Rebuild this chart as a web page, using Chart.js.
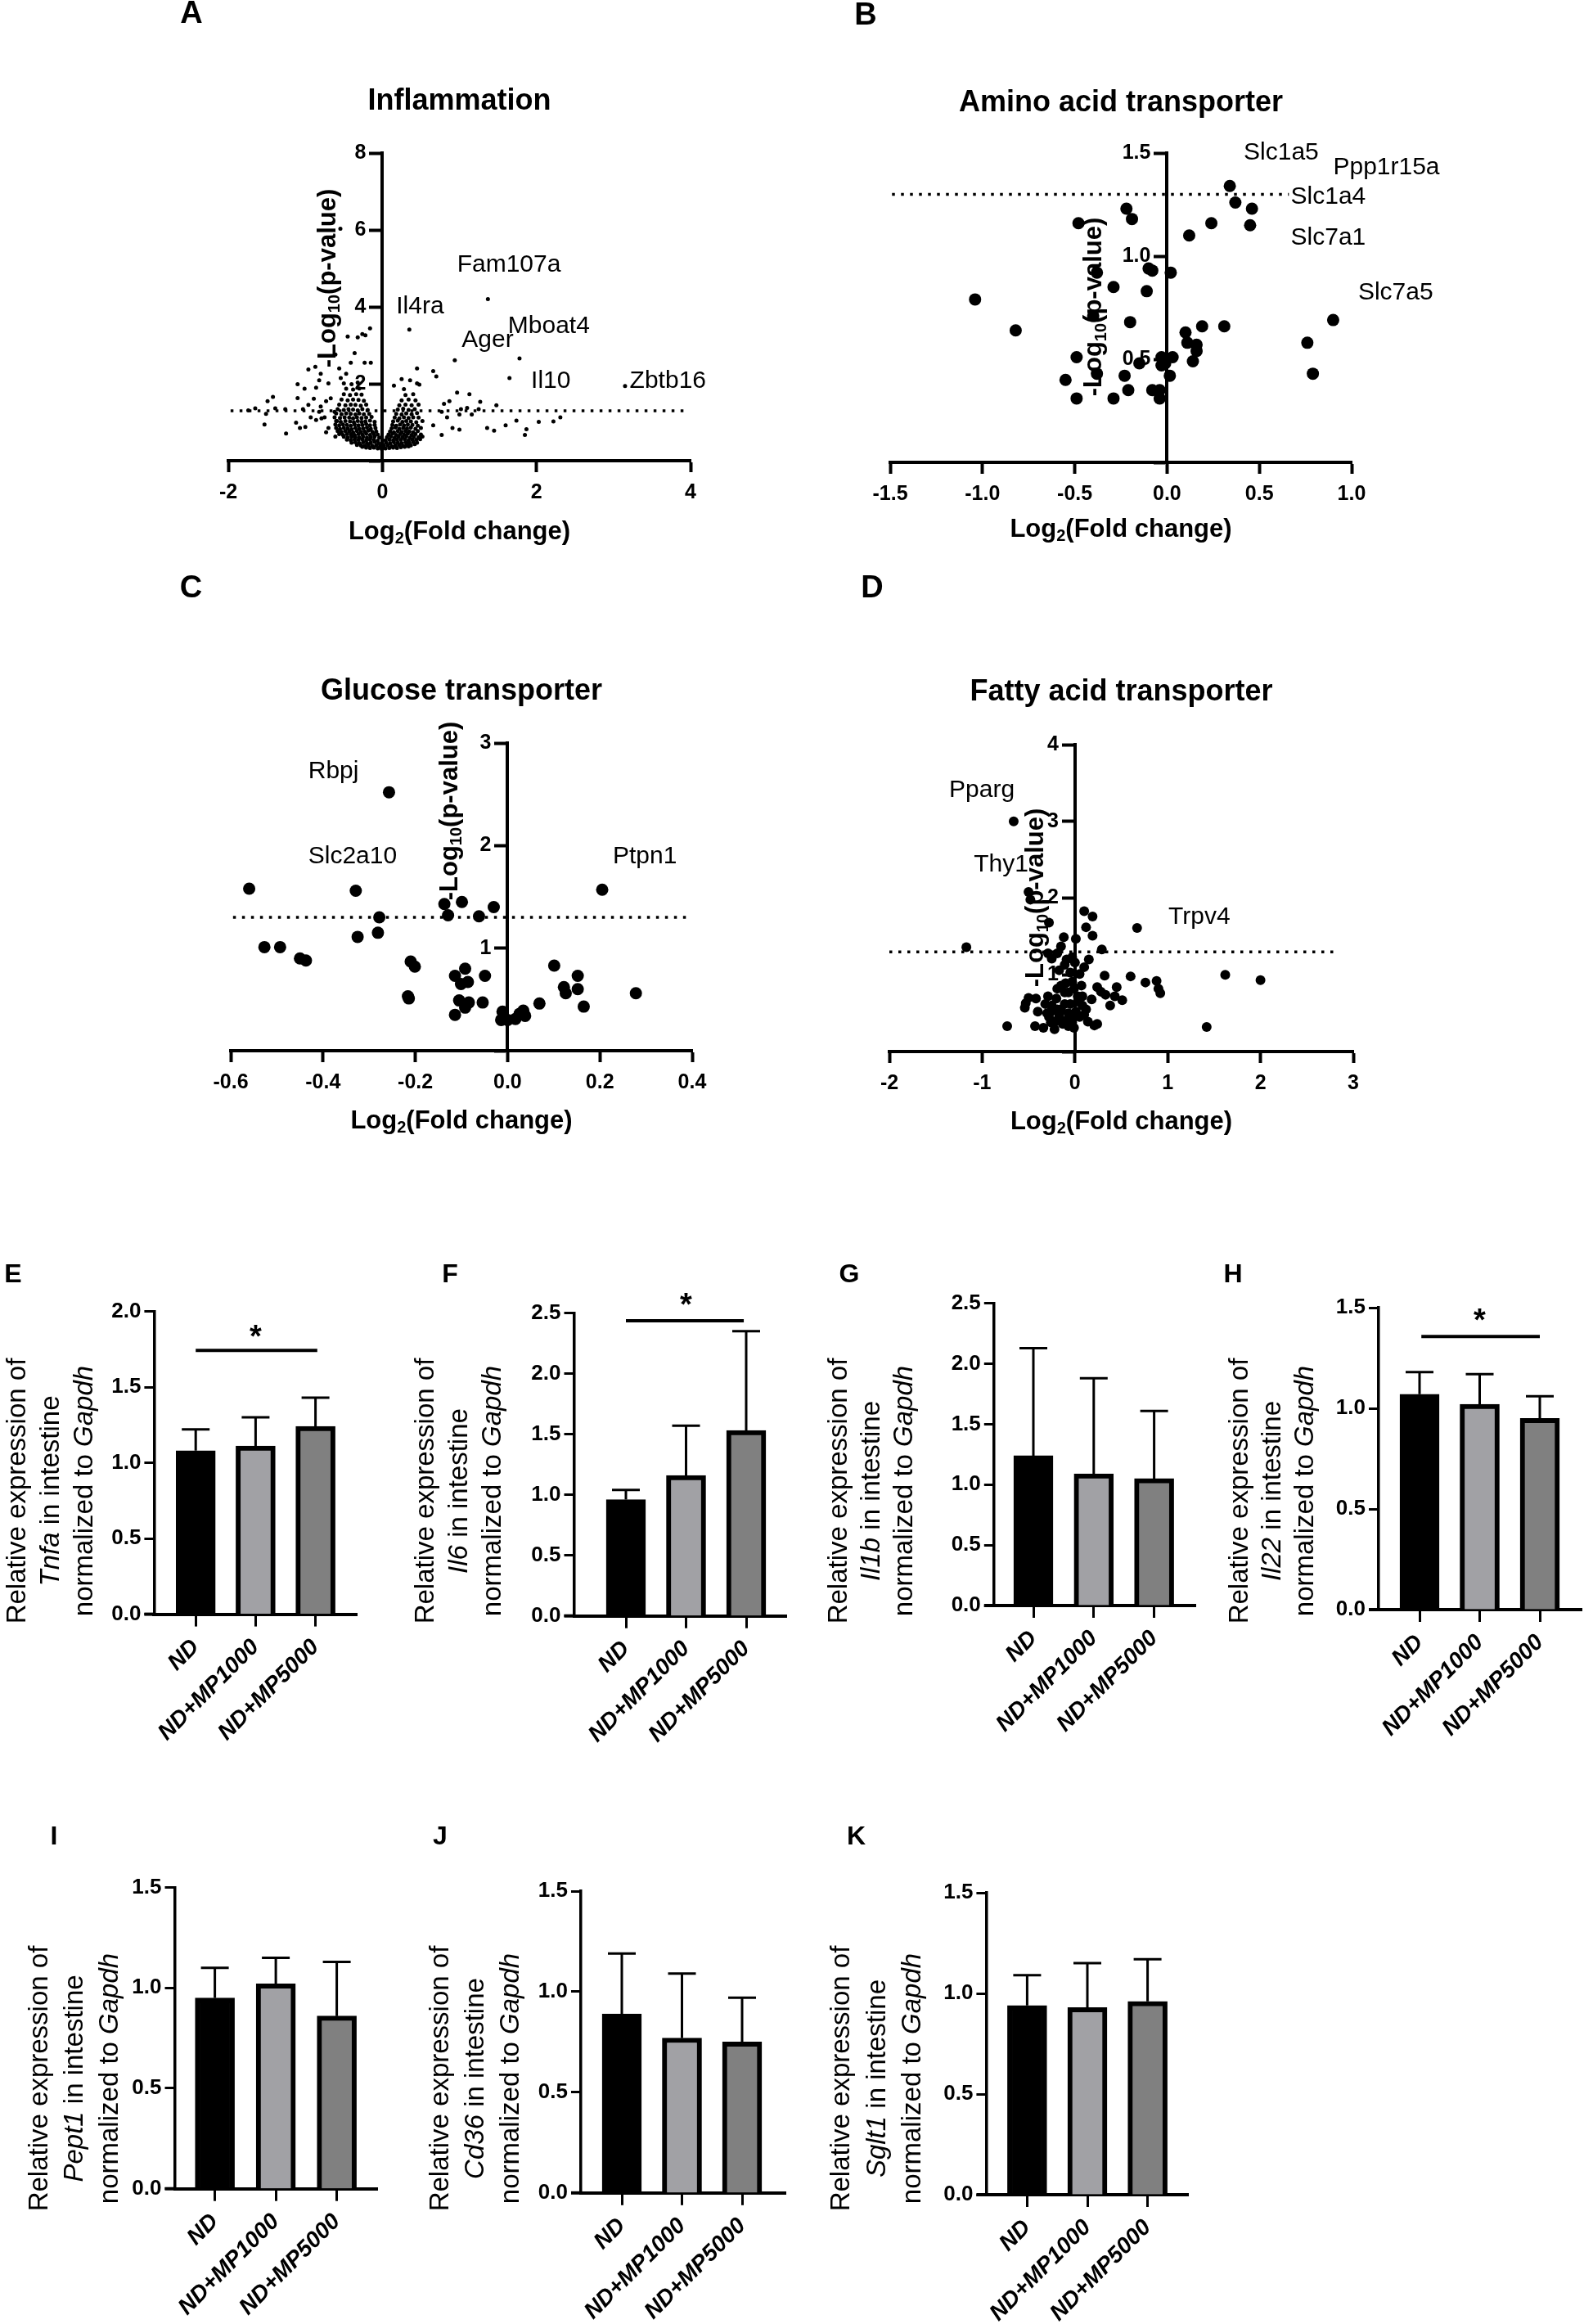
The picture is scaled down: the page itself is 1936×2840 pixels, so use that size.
<!DOCTYPE html>
<html>
<head>
<meta charset="utf-8">
<script src="https://cdn.jsdelivr.net/npm/chart.js@4.4.0/dist/chart.umd.min.js"></script>
<style>
  html, body { margin: 0; padding: 0; background: #fff; }
  #page { position: relative; width: 1936px; height: 2840px; background: #fff; overflow: hidden; }
  #page canvas { position: absolute; }
</style>
</head>
<body>
<div id="page"></div>
<script>
const FAM = '"Liberation Sans", Arial, Helvetica, sans-serif';

// ---------- volcano data: [log2(fold change), -log10(p)] ----------
const inflammationPts = [
  // labelled / isolated genes
  [-0.545,6.03],[1.37,4.2],[0.35,3.41],[0.94,2.61],[1.78,2.66],[1.65,2.15],[3.15,1.94],
  // sparse, upper left
  [-0.16,3.44],[-0.22,3.26],[-0.26,3.29],[-0.32,3.21],[-0.45,3.23],[-0.61,2.76],[-0.36,2.8],[-0.41,2.55],[-0.23,2.55],
  [-0.15,2.55],[-0.56,2.4],[-0.54,2.15],[-0.47,2.26],[-0.96,2.37],[-0.87,2.44],[-0.8,2.26],[-0.82,2.09],[-0.7,2.01],
  [-0.86,1.9],[-1.1,1.99],[-1.01,1.87],[-1.1,1.63],[-1.42,1.66],[-1.39,1.36],[-1.26,1.34],[-1.25,0.71],[-1.12,0.99],
  [-1.07,0.85],[-1.0,0.88],[-0.93,1.13],[-1.03,1.34],[-0.96,1.45],[-0.89,1.61],[-0.8,1.41],[-0.86,1.06],[-0.79,1.1],
  [-0.73,0.74],[-0.7,0.85],[-0.82,1.27],[-0.75,1.13],[-0.73,1.55],[-0.67,1.62],[-0.62,1.27],[-0.59,1.03],[-0.61,0.63],
  [-1.49,1.55],[-1.65,1.36],[-1.74,1.31],[-1.51,1.22],[-1.53,0.94],
  // sparse, right
  [0.15,1.95],[0.25,2.12],[0.36,2.09],[0.45,2.01],[0.48,1.98],[0.66,2.33],[0.7,2.19],[0.45,2.4],[0.97,1.77],[1.13,1.73],
  [1.27,1.53],[1.48,1.44],[0.8,1.48],[0.87,1.55],[1.02,1.34],[1.1,1.37],[1.16,1.2],[1.25,1.34],[1.36,0.85],[1.45,0.78],
  [1.6,0.92],[1.0,0.81],[0.91,0.85],[0.77,0.67],[0.66,0.92],[0.84,1.13],[1.0,1.2],[0.77,1.27],[1.74,1.04],[2.03,1.01],
  [2.22,1.02],[2.31,1.13],[1.85,0.67],[1.87,0.82],
  // dense core
  [-0.26,0.36],[-0.21,0.34],[-0.16,0.33],[-0.11,0.34],[-0.06,0.32],[-0.01,0.31],[0.04,0.32],[0.09,0.33],[0.14,0.34],
  [0.19,0.33],[0.24,0.35],[0.29,0.36],[0.34,0.37],
  [-0.33,0.41],[-0.28,0.4],[-0.23,0.39],[-0.18,0.41],[-0.13,0.39],[-0.08,0.4],[-0.03,0.38],[0.02,0.39],[0.07,0.4],
  [0.12,0.38],[0.17,0.4],[0.22,0.41],[0.27,0.39],[0.32,0.42],[0.37,0.4],[0.42,0.43],
  [-0.4,0.47],[-0.35,0.48],[-0.3,0.46],[-0.25,0.48],[-0.2,0.46],[-0.15,0.47],[-0.1,0.49],[-0.05,0.46],[0.0,0.45],
  [0.05,0.47],[0.1,0.46],[0.15,0.48],[0.2,0.47],[0.25,0.46],[0.3,0.48],[0.35,0.47],[0.4,0.49],[0.45,0.47],
  [-0.46,0.55],[-0.41,0.53],[-0.36,0.55],[-0.31,0.54],[-0.26,0.56],[-0.21,0.53],[-0.16,0.55],[-0.11,0.54],[-0.06,0.52],
  [0.04,0.53],[0.09,0.55],[0.14,0.53],[0.19,0.55],[0.24,0.54],[0.29,0.56],[0.34,0.53],[0.39,0.55],[0.44,0.54],[0.49,0.56],
  [-0.5,0.62],[-0.45,0.6],[-0.4,0.62],[-0.35,0.61],[-0.3,0.6],[-0.25,0.62],[-0.2,0.6],[-0.15,0.61],[-0.1,0.63],[-0.04,0.6],
  [0.06,0.61],[0.11,0.63],[0.16,0.6],[0.21,0.62],[0.26,0.61],[0.31,0.63],[0.36,0.6],[0.41,0.62],[0.47,0.61],[0.52,0.63],
  [-0.56,0.69],[-0.51,0.67],[-0.46,0.69],[-0.41,0.68],[-0.36,0.67],[-0.31,0.69],[-0.26,0.68],[-0.21,0.7],[-0.16,0.67],
  [-0.11,0.69],[-0.06,0.68],[0.08,0.68],[0.13,0.7],[0.18,0.67],[0.23,0.69],[0.28,0.68],[0.33,0.7],[0.38,0.67],[0.43,0.69],[0.5,0.68],
  [-0.58,0.77],[-0.53,0.75],[-0.48,0.77],[-0.43,0.76],[-0.38,0.74],[-0.33,0.77],[-0.28,0.75],[-0.23,0.76],[-0.18,0.78],
  [-0.13,0.75],[-0.08,0.76],[0.1,0.76],[0.15,0.74],[0.2,0.77],[0.25,0.75],[0.3,0.77],[0.35,0.76],[0.4,0.74],[0.46,0.77],
  [-0.6,0.85],[-0.55,0.83],[-0.5,0.85],[-0.45,0.84],[-0.4,0.82],[-0.35,0.85],[-0.3,0.83],[-0.25,0.84],[-0.2,0.86],
  [-0.15,0.83],[-0.09,0.85],[0.12,0.84],[0.17,0.86],[0.22,0.83],[0.27,0.85],[0.32,0.84],[0.37,0.86],[0.43,0.83],[0.5,0.85],
  [-0.61,0.94],[-0.56,0.92],[-0.51,0.94],[-0.46,0.93],[-0.41,0.91],[-0.36,0.94],[-0.31,0.92],[-0.26,0.93],[-0.21,0.95],
  [-0.16,0.92],[-0.1,0.93],[0.13,0.93],[0.18,0.91],[0.23,0.94],[0.28,0.92],[0.33,0.94],[0.39,0.93],[0.46,0.91],
  [-0.6,1.03],[-0.54,1.01],[-0.48,1.03],[-0.42,1.02],[-0.37,1.0],[-0.32,1.03],[-0.27,1.01],[-0.22,1.02],[-0.16,1.04],
  [-0.1,1.01],[0.14,1.02],[0.2,1.04],[0.26,1.01],[0.31,1.03],[0.37,1.02],[0.44,1.0],[0.52,1.03],
  [-0.62,1.13],[-0.55,1.11],[-0.49,1.13],[-0.43,1.12],[-0.38,1.1],[-0.33,1.13],[-0.27,1.11],[-0.21,1.12],[-0.14,1.14],
  [0.16,1.12],[0.22,1.1],[0.28,1.13],[0.34,1.11],[0.4,1.13],[0.47,1.12],
  [-0.6,1.23],[-0.53,1.21],[-0.47,1.23],[-0.41,1.22],[-0.35,1.2],[-0.3,1.23],[-0.24,1.21],[-0.17,1.22],[0.18,1.22],
  [0.25,1.2],[0.31,1.23],[0.38,1.21],[0.45,1.24],
  [-0.58,1.34],[-0.5,1.32],[-0.44,1.34],[-0.38,1.33],[-0.32,1.31],[-0.26,1.34],[-0.19,1.32],[0.2,1.33],[0.27,1.35],[0.34,1.32],[0.42,1.34],
  [-0.56,1.46],[-0.48,1.44],[-0.41,1.46],[-0.35,1.45],[-0.28,1.43],[-0.21,1.46],[0.22,1.44],[0.3,1.46],[0.38,1.44],[0.47,1.46],
  [-0.53,1.59],[-0.45,1.57],[-0.38,1.59],[-0.31,1.58],[-0.24,1.56],[0.25,1.57],[0.34,1.59],[0.43,1.57],
  [-0.5,1.73],[-0.42,1.71],[-0.34,1.73],[-0.27,1.72],[0.3,1.71],[0.4,1.73],
  [-0.47,1.87],[-0.38,1.85],[-0.3,1.88],[0.28,1.86],
  [-0.5,2.01],[-0.4,1.99],[-0.32,2.03]
];
const aminoPts = [
  [-1.04,0.79],[-0.82,0.64],[-0.48,1.16],[-0.49,0.51],[-0.55,0.4],[-0.49,0.31],[-0.38,0.92],[-0.4,0.71],[-0.38,0.43],
  [-0.29,0.85],[-0.29,0.31],[-0.23,0.42],[-0.21,0.35],[-0.2,0.68],[-0.22,1.23],[-0.19,1.18],[-0.15,0.48],[-0.11,0.83],
  [-0.1,0.94],[-0.08,0.93],[-0.08,0.35],[-0.04,0.35],[-0.04,0.31],[-0.03,0.51],[-0.03,0.47],[0.02,0.92],[0.03,0.51],
  [0.015,0.42],[-0.01,0.48],[0.12,1.1],[0.1,0.63],[0.11,0.58],[0.16,0.57],[0.16,0.54],[0.14,0.49],[0.19,0.66],
  [0.24,1.16],[0.31,0.66],[0.34,1.34],[0.37,1.26],[0.45,1.15],[0.46,1.23],[0.76,0.58],[0.79,0.43],[0.9,0.69]
];
const glucosePts = [
  [-0.56,1.58],[-0.527,1.01],[-0.493,1.01],[-0.45,0.9],[-0.437,0.88],[-0.329,1.56],[-0.325,1.11],[-0.278,1.3],
  [-0.281,1.15],[-0.257,2.52],[-0.21,0.87],[-0.201,0.82],[-0.216,0.53],[-0.214,0.51],[-0.137,1.43],[-0.129,1.32],
  [-0.114,0.73],[-0.114,0.35],[-0.105,0.49],[-0.099,1.45],[-0.101,0.65],[-0.092,0.8],[-0.086,0.67],[-0.092,0.42],
  [-0.084,0.47],[-0.062,1.31],[-0.054,0.47],[-0.049,0.73],[-0.03,1.4],[-0.011,0.38],[-0.014,0.3],[0.0,0.3],
  [0.017,0.31],[0.026,0.36],[0.034,0.39],[0.038,0.34],[0.069,0.46],[0.101,0.83],[0.122,0.62],[0.126,0.56],
  [0.152,0.73],[0.152,0.6],[0.165,0.43],[0.205,1.57],[0.278,0.56]
];
const fattyPts = [
  [-0.66,3.0],[-1.17,1.36],[-0.5,2.08],[-0.48,1.98],[-0.28,1.68],[0.1,1.83],[0.19,1.76],[0.12,1.62],[0.19,1.51],
  [0.67,1.61],[-0.12,1.49],[0.01,1.47],[0.29,1.33],[-0.15,1.37],[-0.19,1.28],[-0.29,1.28],[-0.25,1.21],[-0.03,1.23],
  [0.15,1.2],[0.1,1.1],[-0.11,1.13],[0.0,1.16],[-0.17,1.06],[0.32,0.99],[0.6,0.98],[0.76,0.9],[0.88,0.92],[0.9,0.82],
  [0.92,0.76],[1.62,1.0],[2.0,0.93],[1.42,0.32],[-0.73,0.33],[-0.43,0.33],[-0.34,0.31],[-0.22,0.29],[-0.07,0.33],
  [-0.01,0.31],[0.14,0.39],[0.21,0.34],[0.24,0.36],[-0.54,0.57],[-0.5,0.7],[-0.42,0.69],[-0.53,0.63],[-0.29,0.72],
  [-0.25,0.6],[-0.19,0.82],[-0.11,0.77],[-0.1,0.89],[-0.03,0.91],[0.07,0.86],[0.08,0.72],[0.18,0.68],[0.24,0.84],
  [0.28,0.78],[0.33,0.74],[0.45,0.84],[0.43,0.72],[0.51,0.67],[0.38,0.6],[-0.3,0.5],[-0.28,0.45],[-0.15,0.55],
  [-0.07,0.5],[0.01,0.52],[0.05,0.45],[-0.11,0.4],[-0.2,0.4],[-0.26,0.52],[-0.05,0.62],[0.03,0.65],[0.12,0.55],
  [-0.2,0.69],[-0.15,0.86],[-0.01,0.82],[-0.05,1.03],[0.05,1.01],[-0.09,1.2],[-0.32,0.62],[-0.4,0.52],[-0.06,0.45],
  [-0.17,0.48],[-0.11,0.62],[0.08,0.6],[0.1,0.48],[-0.19,0.55],[-0.26,0.38],[-0.03,0.38],[-0.13,0.36],[0.03,0.72],[-0.07,0.77]
];

// gene annotations: [name, log2FC, -log10 p] of the label's left edge
const inflammationGenes = [['Fam107a',0.97,5.09],['Il4ra',0.18,4.0],['Ager',1.03,3.13],['Mboat4',1.63,3.49],['Il10',1.93,2.06],['Zbtb16',3.21,2.06]];
const aminoGenes = [['Slc1a5',0.415,1.5],['Ppp1r15a',0.9,1.43],['Slc1a4',0.67,1.286],['Slc7a1',0.67,1.087],['Slc7a5',1.035,0.823]];
const glucoseGenes = [['Rbpj',-0.432,2.725],['Slc2a10',-0.432,1.89],['Ptpn1',0.228,1.89]];
const fattyGenes = [['Pparg',-1.356,3.41],['Thy1',-1.09,2.43],['Trpv4',1.007,1.75]];

// axis ticks
const aXTicks = [-2, 0, 2, 4], aYTicks = [2, 4, 6, 8];
const bXTicks = [-1.5, -1.0, -0.5, 0.0, 0.5, 1.0], bYTicks = [0.5, 1.0, 1.5];
const cXTicks = [-0.6, -0.4, -0.2, 0.0, 0.2, 0.4], cYTicks = [1, 2, 3];
const dXTicks = [-2, -1, 0, 1, 2, 3], dYTicks = [1, 2, 3, 4];
const pCutoff = 1.3; // -log10(0.05)

// ---------- qPCR bar data ----------
const groups = ['ND', 'ND+MP1000', 'ND+MP5000'];
const barFill = ['#000000', '#a1a1a5', '#808080'];
const tnfaMean = [1.08, 1.11, 1.24],  tnfaSd = [0.14, 0.19, 0.19];
const il6Mean = [0.96, 1.16, 1.53],   il6Sd = [0.08, 0.41, 0.82];
const il1bMean = [1.24, 1.09, 1.05],  il1bSd = [0.89, 0.79, 0.56];
const il22Mean = [1.07, 1.02, 0.95],  il22Sd = [0.11, 0.15, 0.11];
const pept1Mean = [0.95, 1.02, 0.86], pept1Sd = [0.15, 0.13, 0.27];
const cd36Mean = [0.89, 0.77, 0.75],  cd36Sd = [0.30, 0.32, 0.22];
const sglt1Mean = [0.94, 0.93, 0.96], sglt1Sd = [0.15, 0.22, 0.21];

// ---------- drawing helpers ----------
const page = document.getElementById('page');
const decorCfg = new Map();

function makeCanvas(box) {
  const c = document.createElement('canvas');
  c.width = box[2];
  c.height = box[3];
  c.style.left = box[0] + 'px';
  c.style.top = box[1] + 'px';
  c.style.width = box[2] + 'px';
  c.style.height = box[3] + 'px';
  page.appendChild(c);
  return c;
}

function fontOf(seg, size) {
  const s = seg.sub ? Math.round(size * 0.65) : size;
  return (seg.it ? 'italic ' : '') + (seg.b ? 'bold ' : '') + s + 'px ' + FAM;
}

// draws a run of text pieces (italic / bold / subscript) centred or left-aligned on x,y
function drawSegs(ctx, segs, x, y, size, rot, align) {
  ctx.save();
  ctx.translate(x, y);
  if (rot) ctx.rotate(rot);
  let w = 0;
  segs.forEach(s => { ctx.font = fontOf(s, size); w += ctx.measureText(s.t).width; });
  let cx = align === 'left' ? 0 : -w / 2;
  ctx.fillStyle = '#000';
  ctx.textAlign = 'left';
  ctx.textBaseline = 'middle';
  segs.forEach(s => {
    ctx.font = fontOf(s, size);
    ctx.fillText(s.t, cx, s.sub ? size * 0.28 : 0);
    cx += ctx.measureText(s.t).width;
  });
  ctx.restore();
}

const X_TITLE = [{t: 'Log', b: true}, {t: '2', b: true, sub: true}, {t: '(Fold change)', b: true}];
const Y_TITLE = [{t: '-Log', b: true}, {t: '10', b: true, sub: true}, {t: '(p-value)', b: true}];

const decor = {
  id: 'decor',
  beforeDatasetsDraw(chart) {
    const o = decorCfg.get(chart.canvas);
    if (!o || !o.yTicks) return;
    const ctx = chart.ctx, xs = chart.scales.x, ys = chart.scales.y;
    const ax = xs.getPixelForValue(0);
    ctx.save();
    ctx.font = 'bold 25px ' + FAM;
    ctx.fillStyle = '#000';
    ctx.textAlign = 'right';
    ctx.textBaseline = 'middle';
    o.yTicks.forEach(v => ctx.fillText(v.toFixed(o.yDec), ax - 20, ys.getPixelForValue(v)));
    ctx.restore();
  },
  afterDatasetsDraw(chart) {
    const o = decorCfg.get(chart.canvas);
    if (!o) return;
    const ctx = chart.ctx, xs = chart.scales.x, ys = chart.scales.y, a = chart.chartArea;
    const ox = o.box[0], oy = o.box[1];
    ctx.save();
    ctx.strokeStyle = '#000';
    ctx.fillStyle = '#000';

    if (o.err) {
      // SD error bars (upper half only)
      ctx.lineWidth = 3;
      o.mean.forEach((m, i) => {
        const x = xs.getPixelForValue(i);
        const y1 = ys.getPixelForValue(m), y2 = ys.getPixelForValue(m + o.err[i]);
        ctx.beginPath();
        ctx.moveTo(x, y1); ctx.lineTo(x, y2);
        ctx.moveTo(x - 17, y2); ctx.lineTo(x + 17, y2);
        ctx.stroke();
      });
      // x axis sticks out a little left of the y axis
      ctx.lineWidth = 4;
      ctx.beginPath();
      ctx.moveTo(a.left - 12, a.bottom); ctx.lineTo(a.left, a.bottom);
      ctx.stroke();
    }
    if (o.sig) {
      const y = ys.getPixelForValue(o.sig.y);
      ctx.lineWidth = 4;
      ctx.beginPath();
      ctx.moveTo(xs.getPixelForValue(o.sig.from), y);
      ctx.lineTo(xs.getPixelForValue(o.sig.to), y);
      ctx.stroke();
      ctx.font = 'bold 38px ' + FAM;
      ctx.textAlign = 'center';
      ctx.textBaseline = 'alphabetic';
      ctx.fillText('*', xs.getPixelForValue(1), ys.getPixelForValue(o.sig.star) + 22);
    }
    if (o.genes) {
      o.genes.forEach(g => drawSegs(ctx, [{t: g[0]}], xs.getPixelForValue(g[1]), ys.getPixelForValue(g[2]), 30, 0, 'left'));
    }
    if (o.title) drawSegs(ctx, [{t: o.title, b: true}], (a.left + a.right) / 2, o.titleY - oy, 36, 0);
    if (o.xTitleY) drawSegs(ctx, X_TITLE, (a.left + a.right) / 2, o.xTitleY - oy, 31, 0);
    if (o.yTitleAt) drawSegs(ctx, Y_TITLE, o.yTitleAt[0] - ox, o.yTitleAt[1] - oy, 31, -Math.PI / 2);
    if (o.yLines) {
      o.yLines.forEach((segs, k) => drawSegs(ctx, segs, o.yLineX[k] - ox, o.yLineCy - oy, 33, -Math.PI / 2));
    }
    drawSegs(ctx, [{t: o.letter[0], b: true}], o.letter[1] - ox, o.letter[2] - oy, o.letterSize, 0);
    ctx.restore();
  }
};

// ---------- volcano panels ----------
function volcano(p) {
  const cv = makeCanvas(p.box);
  const [L, T, R, B] = p.area;
  const xH = 100;
  decorCfg.set(cv, {
    box: p.box, letter: p.letter, letterSize: 38, title: p.title, titleY: p.titleY,
    xTitleY: p.xTitleY, yTitleAt: p.yTitleAt, genes: p.genes, yTicks: p.yTicks, yDec: p.yDec
  });
  return new Chart(cv, {
    type: 'scatter',
    data: {
      datasets: [
        { data: p.points.map(([x, y]) => ({x, y})), backgroundColor: '#000', borderWidth: 0, pointRadius: p.r, clip: false },
        { data: [{x: p.cut[0], y: pCutoff}, {x: p.cut[1], y: pCutoff}], showLine: true, borderColor: '#000',
          borderWidth: 3.5, borderDash: [3.5, 7.5], pointRadius: 0, clip: false }
      ]
    },
    options: {
      responsive: false, animation: false, devicePixelRatio: 1, events: [],
      layout: { autoPadding: false, padding: { left: L - p.box[0], top: T - p.box[1], right: p.box[0] + p.box[2] - R, bottom: p.box[1] + p.box[3] - B - xH } },
      scales: {
        x: {
          type: 'linear', position: 'bottom', min: p.xTicks[0], max: p.xTicks[p.xTicks.length - 1],
          afterFit: s => { s.height = xH; },
          afterBuildTicks: s => { s.ticks = p.xTicks.map(v => ({value: v})); },
          ticks: { color: '#000', font: {family: FAM, size: 25, weight: 'bold'}, padding: 10, maxRotation: 0, autoSkip: false,
                   callback: v => v.toFixed(p.xDec) },
          grid: { drawOnChartArea: false, tickLength: 14, tickWidth: 4, tickColor: '#000' },
          border: { color: '#000', width: 4 }
        },
        y: {
          type: 'linear', position: {x: 0}, min: 0, max: p.yTicks[p.yTicks.length - 1],
          afterBuildTicks: s => { s.ticks = [0].concat(p.yTicks).map(v => ({value: v})); },
          ticks: { display: false },
          grid: { drawOnChartArea: false, tickLength: 14, tickWidth: 4, tickColor: '#000' },
          border: { color: '#000', width: 4 }
        }
      },
      plugins: { legend: {display: false}, tooltip: {enabled: false} }
    },
    plugins: [decor]
  });
}

volcano({ box: [200, 0, 720, 700], area: [279, 187, 844, 563], letter: ['A', 234, 18], title: 'Inflammation', titleY: 124,
  xTitleY: 650, yTitleAt: [401, 340], points: inflammationPts, genes: inflammationGenes, r: 2.5,
  xTicks: aXTicks, xDec: 0, yTicks: aYTicks, yDec: 0, cut: [-1.97, 3.92] });
volcano({ box: [1000, 0, 900, 700], area: [1088, 187, 1652, 565], letter: ['B', 1058, 20], title: 'Amino acid transporter', titleY: 126,
  xTitleY: 647, yTitleAt: [1337.5, 375], points: aminoPts, genes: aminoGenes, r: 7.5,
  xTicks: bXTicks, xDec: 1, yTicks: bYTicks, yDec: 1, cut: [-1.49, 0.66] });
volcano({ box: [200, 690, 720, 720], area: [282, 908, 846, 1284], letter: ['C', 233.5, 720], title: 'Glucose transporter', titleY: 845,
  xTitleY: 1370, yTitleAt: [550, 991], points: glucosePts, genes: glucoseGenes, r: 7.5,
  xTicks: cXTicks, xDec: 1, yTicks: cYTicks, yDec: 0, cut: [-0.595, 0.39] });
volcano({ box: [1000, 690, 900, 720], area: [1087, 910, 1654, 1285], letter: ['D', 1066, 720], title: 'Fatty acid transporter', titleY: 846,
  xTitleY: 1371, yTitleAt: [1266.7, 1097], points: fattyPts, genes: fattyGenes, r: 6,
  xTicks: dXTicks, xDec: 0, yTicks: dYTicks, yDec: 0, cut: [-2, 2.82] });

// ---------- bar panels ----------
function barPanel(p) {
  const cv = makeCanvas(p.box);
  const [L, T, R, B] = p.area;
  const yW = 60, xH = 200;
  const xMin = (L - p.c0) / p.step, xMax = (R - p.c0) / p.step;
  const yTicks = [];
  for (let v = 0; v <= p.yMax + 1e-9; v += 0.5) yTicks.push(v);
  decorCfg.set(cv, {
    box: p.box, letter: p.letter, letterSize: 32, mean: p.mean, err: p.sd, sig: p.sig,
    yLines: [
      [{t: 'Relative expression of'}],
      [{t: p.gene, it: true}, {t: ' in intestine'}],
      [{t: 'normalized to '}, {t: 'Gapdh', it: true}]
    ],
    yLineX: p.yLineX, yLineCy: p.yLineCy
  });
  return new Chart(cv, {
    type: 'bar',
    data: {
      datasets: [{ data: p.mean.map((m, i) => ({x: i, y: m})), backgroundColor: barFill, borderColor: '#000',
                   borderWidth: p.bw, barThickness: 48, clip: false }]
    },
    options: {
      responsive: false, animation: false, devicePixelRatio: 1, events: [],
      layout: { autoPadding: false, padding: { left: L - p.box[0] - yW, top: T - p.box[1], right: p.box[0] + p.box[2] - R, bottom: p.box[1] + p.box[3] - B - xH } },
      scales: {
        x: {
          type: 'linear', offset: false, min: xMin, max: xMax,
          afterFit: s => { s.height = xH; },
          afterBuildTicks: s => { s.ticks = groups.map((g, i) => ({value: i})); },
          ticks: { color: '#000', autoSkip: false, minRotation: 45, maxRotation: 45, padding: 9,
                   font: {family: FAM, size: 28, weight: 'bold', style: 'italic'}, callback: v => groups[v] },
          grid: { offset: false, drawOnChartArea: false, tickLength: 15, tickWidth: 3, tickColor: '#000' },
          border: { color: '#000', width: 4 }
        },
        y: {
          type: 'linear', min: 0, max: p.yMax,
          afterFit: s => { s.width = yW; },
          afterBuildTicks: s => { s.ticks = yTicks.map(v => ({value: v})); },
          ticks: { color: '#000', padding: 4, font: {family: FAM, size: 26, weight: 'bold'}, callback: v => v.toFixed(1) },
          grid: { drawOnChartArea: false, tickLength: 12, tickWidth: 3, tickColor: '#000' },
          border: { color: '#000', width: 3.5 }
        }
      },
      plugins: { legend: {display: false}, tooltip: {enabled: false} }
    },
    plugins: [decor]
  });
}

barPanel({ box: [0, 1500, 490, 720], area: [188.4, 1602.5, 436.5, 1972.6], c0: 239.2, step: 73.2, yMax: 2.0,
  letter: ['E', 16, 1558], gene: 'Tnfa', mean: tnfaMean, sd: tnfaSd, bw: 6,
  sig: {y: 1.742, from: 0, to: 2.03, star: 1.886}, yLineX: [22, 63, 104], yLineCy: 1822 });
barPanel({ box: [490, 1500, 490, 720], area: [701.5, 1604.6, 961, 1974.7], c0: 765, step: 73.5, yMax: 2.5,
  letter: ['F', 550, 1558], gene: 'Il6', mean: il6Mean, sd: il6Sd, bw: 6,
  sig: {y: 2.437, from: 0, to: 1.96, star: 2.63}, yLineX: [521, 562, 603], yLineCy: 1822 });
barPanel({ box: [980, 1500, 500, 720], area: [1214.8, 1592.8, 1461, 1962], c0: 1263, step: 73.8, yMax: 2.5,
  letter: ['G', 1038, 1558], gene: 'Il1b', mean: il1bMean, sd: il1bSd, bw: 6,
  sig: null, yLineX: [1026, 1066, 1106], yLineCy: 1822 });
barPanel({ box: [1480, 1500, 456, 720], area: [1685, 1598, 1933, 1967], c0: 1735, step: 73.5, yMax: 1.5,
  letter: ['H', 1507, 1558], gene: 'Il22', mean: il22Mean, sd: il22Sd, bw: 6,
  sig: {y: 1.357, from: 0.03, to: 2.0, star: 1.474}, yLineX: [1516, 1556, 1596], yLineCy: 1822 });
barPanel({ box: [0, 2170, 490, 670], area: [213.5, 2306.6, 461.8, 2674.7], c0: 262.6, step: 74.5, yMax: 1.5,
  letter: ['I', 66, 2245], gene: 'Pept1', mean: pept1Mean, sd: pept1Sd, bw: 6,
  sig: null, yLineX: [49, 92, 135], yLineCy: 2540 });
barPanel({ box: [490, 2170, 500, 670], area: [710, 2311, 960, 2679.8], c0: 760, step: 73.5, yMax: 1.5,
  letter: ['J', 538, 2245], gene: 'Cd36', mean: cd36Mean, sd: cd36Sd, bw: 6,
  sig: null, yLineX: [539, 582, 625], yLineCy: 2540 });
barPanel({ box: [990, 2170, 520, 670], area: [1205.4, 2313, 1452.6, 2682], c0: 1255.4, step: 73.6, yMax: 1.5,
  letter: ['K', 1046.5, 2245], gene: 'Sglt1', mean: sglt1Mean, sd: sglt1Sd, bw: 6,
  sig: null, yLineX: [1029, 1073, 1116], yLineCy: 2540 });
</script>
</body>
</html>
